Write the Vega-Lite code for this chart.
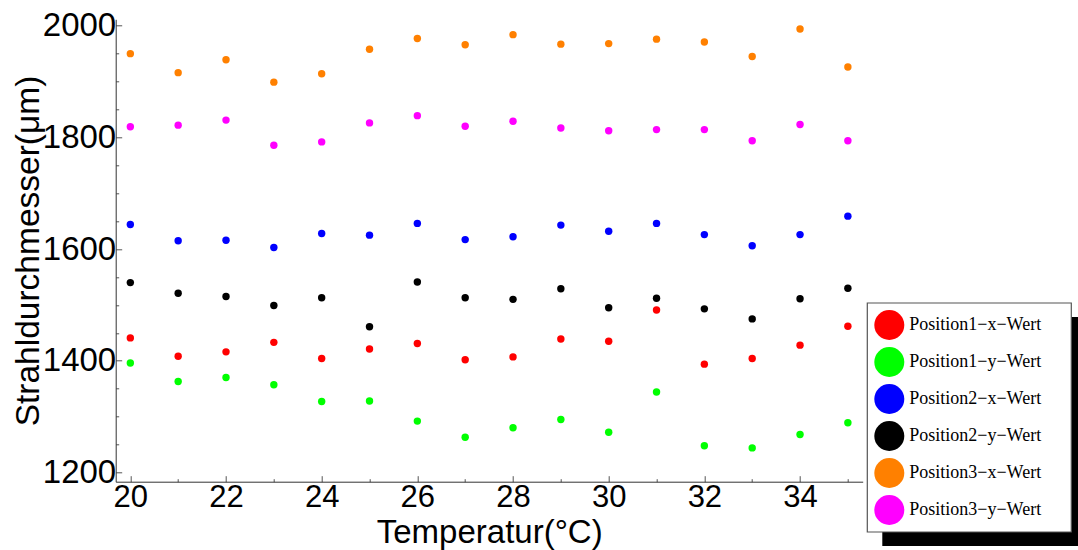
{
  "$schema": "https://vega.github.io/schema/vega-lite/v6.json",
  "autosize": {"type": "none"},
  "padding": {"left": 115.7, "top": 19.3, "right": 215.3, "bottom": 68.3},
  "width": 747,
  "height": 462.4,
  "background": "white",
  "config": {"view": {"stroke": null}, "axis": {"grid": false}},
  "data": {"values": [
    {"T":20,"Serie":"Position1−x−Wert","D":1441},{"T":21,"Serie":"Position1−x−Wert","D":1408},{"T":22,"Serie":"Position1−x−Wert","D":1416},{"T":23,"Serie":"Position1−x−Wert","D":1433},{"T":24,"Serie":"Position1−x−Wert","D":1404},{"T":25,"Serie":"Position1−x−Wert","D":1421},{"T":26,"Serie":"Position1−x−Wert","D":1431},{"T":27,"Serie":"Position1−x−Wert","D":1402},{"T":28,"Serie":"Position1−x−Wert","D":1407},{"T":29,"Serie":"Position1−x−Wert","D":1439},{"T":30,"Serie":"Position1−x−Wert","D":1435},{"T":31,"Serie":"Position1−x−Wert","D":1491},{"T":32,"Serie":"Position1−x−Wert","D":1394},{"T":33,"Serie":"Position1−x−Wert","D":1404},{"T":34,"Serie":"Position1−x−Wert","D":1428},{"T":35,"Serie":"Position1−x−Wert","D":1462},
    {"T":20,"Serie":"Position1−y−Wert","D":1396},{"T":21,"Serie":"Position1−y−Wert","D":1363},{"T":22,"Serie":"Position1−y−Wert","D":1370},{"T":23,"Serie":"Position1−y−Wert","D":1357},{"T":24,"Serie":"Position1−y−Wert","D":1327},{"T":25,"Serie":"Position1−y−Wert","D":1328},{"T":26,"Serie":"Position1−y−Wert","D":1292},{"T":27,"Serie":"Position1−y−Wert","D":1263},{"T":28,"Serie":"Position1−y−Wert","D":1280},{"T":29,"Serie":"Position1−y−Wert","D":1295},{"T":30,"Serie":"Position1−y−Wert","D":1272},{"T":31,"Serie":"Position1−y−Wert","D":1344},{"T":32,"Serie":"Position1−y−Wert","D":1248},{"T":33,"Serie":"Position1−y−Wert","D":1244},{"T":34,"Serie":"Position1−y−Wert","D":1268},{"T":35,"Serie":"Position1−y−Wert","D":1289},
    {"T":20,"Serie":"Position2−x−Wert","D":1644},{"T":21,"Serie":"Position2−x−Wert","D":1615},{"T":22,"Serie":"Position2−x−Wert","D":1616},{"T":23,"Serie":"Position2−x−Wert","D":1603},{"T":24,"Serie":"Position2−x−Wert","D":1628},{"T":25,"Serie":"Position2−x−Wert","D":1625},{"T":26,"Serie":"Position2−x−Wert","D":1646},{"T":27,"Serie":"Position2−x−Wert","D":1617},{"T":28,"Serie":"Position2−x−Wert","D":1622},{"T":29,"Serie":"Position2−x−Wert","D":1643},{"T":30,"Serie":"Position2−x−Wert","D":1632},{"T":31,"Serie":"Position2−x−Wert","D":1646},{"T":32,"Serie":"Position2−x−Wert","D":1626},{"T":33,"Serie":"Position2−x−Wert","D":1606},{"T":34,"Serie":"Position2−x−Wert","D":1626},{"T":35,"Serie":"Position2−x−Wert","D":1659},
    {"T":20,"Serie":"Position2−y−Wert","D":1540},{"T":21,"Serie":"Position2−y−Wert","D":1521},{"T":22,"Serie":"Position2−y−Wert","D":1515},{"T":23,"Serie":"Position2−y−Wert","D":1499},{"T":24,"Serie":"Position2−y−Wert","D":1513},{"T":25,"Serie":"Position2−y−Wert","D":1461},{"T":26,"Serie":"Position2−y−Wert","D":1541},{"T":27,"Serie":"Position2−y−Wert","D":1513},{"T":28,"Serie":"Position2−y−Wert","D":1510},{"T":29,"Serie":"Position2−y−Wert","D":1529},{"T":30,"Serie":"Position2−y−Wert","D":1495},{"T":31,"Serie":"Position2−y−Wert","D":1512},{"T":32,"Serie":"Position2−y−Wert","D":1493},{"T":33,"Serie":"Position2−y−Wert","D":1475},{"T":34,"Serie":"Position2−y−Wert","D":1511},{"T":35,"Serie":"Position2−y−Wert","D":1530},
    {"T":20,"Serie":"Position3−x−Wert","D":1950},{"T":21,"Serie":"Position3−x−Wert","D":1916},{"T":22,"Serie":"Position3−x−Wert","D":1939},{"T":23,"Serie":"Position3−x−Wert","D":1899},{"T":24,"Serie":"Position3−x−Wert","D":1914},{"T":25,"Serie":"Position3−x−Wert","D":1958},{"T":26,"Serie":"Position3−x−Wert","D":1977},{"T":27,"Serie":"Position3−x−Wert","D":1966},{"T":28,"Serie":"Position3−x−Wert","D":1984},{"T":29,"Serie":"Position3−x−Wert","D":1967},{"T":30,"Serie":"Position3−x−Wert","D":1968},{"T":31,"Serie":"Position3−x−Wert","D":1976},{"T":32,"Serie":"Position3−x−Wert","D":1971},{"T":33,"Serie":"Position3−x−Wert","D":1945},{"T":34,"Serie":"Position3−x−Wert","D":1994},{"T":35,"Serie":"Position3−x−Wert","D":1926},
    {"T":20,"Serie":"Position3−y−Wert","D":1819},{"T":21,"Serie":"Position3−y−Wert","D":1822},{"T":22,"Serie":"Position3−y−Wert","D":1831},{"T":23,"Serie":"Position3−y−Wert","D":1786},{"T":24,"Serie":"Position3−y−Wert","D":1792},{"T":25,"Serie":"Position3−y−Wert","D":1826},{"T":26,"Serie":"Position3−y−Wert","D":1839},{"T":27,"Serie":"Position3−y−Wert","D":1820},{"T":28,"Serie":"Position3−y−Wert","D":1829},{"T":29,"Serie":"Position3−y−Wert","D":1817},{"T":30,"Serie":"Position3−y−Wert","D":1812},{"T":31,"Serie":"Position3−y−Wert","D":1814},{"T":32,"Serie":"Position3−y−Wert","D":1814},{"T":33,"Serie":"Position3−y−Wert","D":1794},{"T":34,"Serie":"Position3−y−Wert","D":1823},{"T":35,"Serie":"Position3−y−Wert","D":1794}
  ]},
  "encoding": {
    "x": {
      "field": "T", "type": "quantitative",
      "scale": {"domain": [19.694, 35.31], "nice": false, "zero": false},
      "axis": {
        "values": [20,20.5,21,21.5,22,22.5,23,23.5,24,24.5,25,25.5,26,26.5,27,27.5,28,28.5,29,29.5,30,30.5,31,31.5,32,32.5,33,33.5,34,34.5,35],
        "format": "d",
        "labelExpr": "datum.value % 2 === 0 ? datum.label : ''",
        "labelOverlap": false, "labelFlush": false, "labelBound": false,
        "tickSize": {"condition": {"test": "datum.value % 2 === 0", "value": -6}, "value": -3},
        "tickColor": "#555", "domainColor": "#333", "domainWidth": 1,
        "labelFont": "Liberation Sans", "labelFontSize": 31, "labelColor": "black", "labelPadding": 7,
        "title": "Temperatur(°C)", "titleFont": "Liberation Sans", "titleFontSize": 33, "titleFontWeight": "normal",
        "titleColor": "black", "titleBaseline": "alphabetic", "titleY": 61
      }
    },
    "y": {
      "field": "D", "type": "quantitative",
      "scale": {"domain": [1183.5, 2011.5], "nice": false, "zero": false},
      "axis": {
        "values": [1200,1250,1300,1350,1400,1450,1500,1550,1600,1650,1700,1750,1800,1850,1900,1950,2000],
        "format": "d",
        "labelExpr": "datum.value % 200 === 0 ? datum.label : ''",
        "labelOverlap": false, "labelBound": false,
        "tickSize": {"condition": {"test": "datum.value % 200 === 0", "value": -6}, "value": -3},
        "tickColor": "#555", "domainColor": "#333", "domainWidth": 1,
        "labelFont": "Liberation Sans", "labelFontSize": 33, "labelColor": "black", "labelPadding": 6,
        "title": "Strahldurchmesser(μm)", "titleFont": "Liberation Sans", "titleFontSize": 33.5, "titleFontWeight": "normal",
        "titleColor": "black", "titleBaseline": "alphabetic", "titleAngle": -90, "titleX": -77
      }
    }
  },
  "layer": [
    {
      "mark": {"type": "point", "filled": true, "size": 55, "opacity": 0, "strokeWidth": 0},
      "encoding": {
        "stroke": {
          "field": "D", "type": "quantitative",
          "scale": {"range": ["black", "black"]},
          "legend": {
            "title": null, "orient": "none", "legendX": 766.6, "legendY": 297.7, "zindex": 0,
            "direction": "vertical", "gradientLength": 229, "gradientThickness": 204,
            "gradientStrokeWidth": 0, "padding": 0, "labelExpr": "''", "labelOpacity": 0, "tickCount": 2
          }
        }
      }
    },
    {
      "mark": {"type": "point", "filled": true, "size": 55, "opacity": 1, "strokeWidth": 0},
      "encoding": {
        "color": {
          "field": "Serie", "type": "nominal",
          "scale": {
            "domain": ["Position1−x−Wert","Position1−y−Wert","Position2−x−Wert","Position2−y−Wert","Position3−x−Wert","Position3−y−Wert"],
            "range": ["#ff0000","#00ff00","#0000ff","#000000","#ff8000","#ff00ff"]
          },
          "legend": {
            "title": null, "orient": "none", "legendX": 751.6, "legendY": 283.7, "zindex": 2,
            "padding": 7, "rowPadding": 7,
            "symbolType": "circle", "symbolSize": 900, "symbolStrokeWidth": 0, "labelOffset": 5,
            "labelFont": "Liberation Serif", "labelFontSize": 18, "labelColor": "black", "labelLimit": 400
          }
        },
        "stroke": {
          "field": "D", "type": "quantitative",
          "scale": {"range": ["white", "white"]},
          "legend": {
            "title": null, "orient": "none", "legendX": 751.6, "legendY": 283.7, "zindex": 1,
            "direction": "vertical", "gradientLength": 229, "gradientThickness": 204,
            "gradientStrokeColor": "#555", "gradientStrokeWidth": 1.2, "padding": 0,
            "labelExpr": "''", "labelOpacity": 0, "tickCount": 2
          }
        }
      }
    }
  ],
  "resolve": {"scale": {"stroke": "independent"}, "legend": {"stroke": "independent"}}
}
